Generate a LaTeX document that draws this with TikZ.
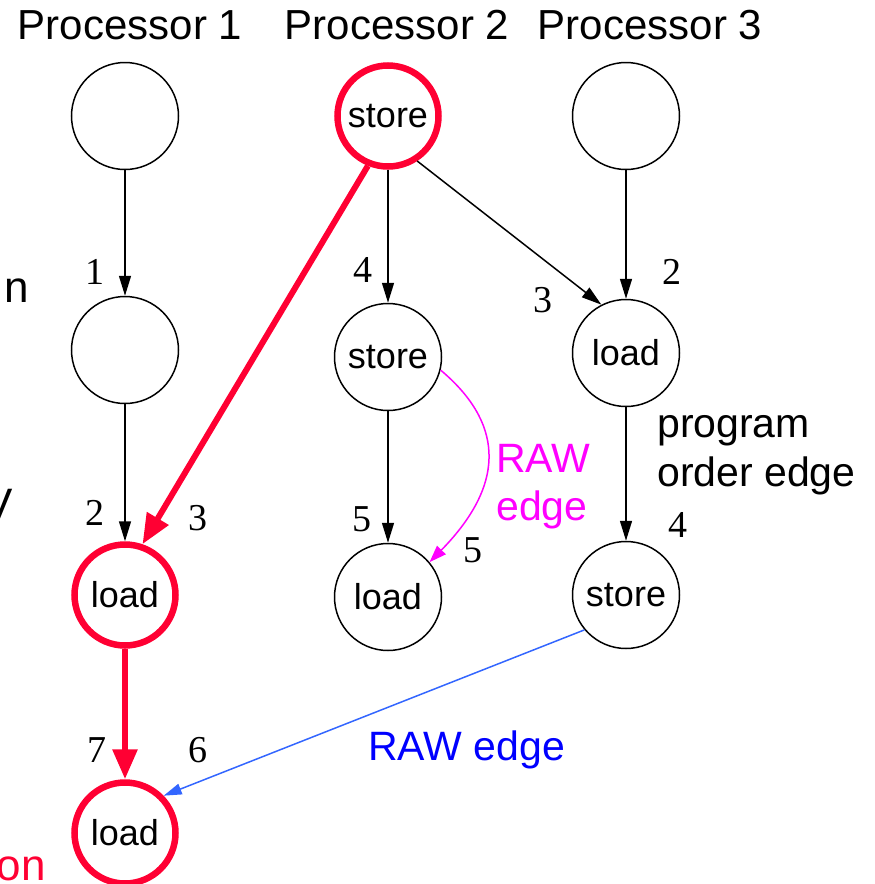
\documentclass[tikz,border=0pt]{standalone}
\usepackage{fontspec}
\setmainfont{Liberation Sans}
\newfontfamily\numfont{Liberation Serif}
\usetikzlibrary{arrows.meta}
\definecolor{hotred}{RGB}{255,0,51}
\definecolor{rawpink}{RGB}{255,0,255}
\definecolor{rawblue}{RGB}{0,0,255}
\definecolor{rawline}{RGB}{51,102,255}
\begin{document}
\begin{tikzpicture}[x=1pt,y=-1pt,
  op/.style={circle, draw, line width=1.5pt, minimum size=107pt, inner sep=0pt,
             font=\fontsize{36}{40}\selectfont},
  hot/.style={op, draw=hotred, line width=6.5pt, minimum size=101pt},
  po/.style={line width=1.5pt, -{Triangle[length=20pt,width=12pt]}},
  hotedge/.style={draw=hotred, line width=6pt, -{Triangle[length=30pt,width=24pt]}},
  rawedge/.style={draw=rawpink, line width=1.5pt, -{Triangle[length=17pt,width=12pt]}},
  rawblueedge/.style={draw=rawline, line width=1.5pt, -{Triangle[length=18pt,width=11pt]}},
  num/.style={inner sep=0pt, font=\numfont\fontsize{38}{40}\selectfont},
  head/.style={inner sep=0pt, font=\fontsize{42}{48}\selectfont},
  lbl/.style={inner sep=0pt, anchor=base west, font=\fontsize{41}{48}\selectfont},
  cut/.style={inner sep=0pt, anchor=base east, font=\fontsize{44}{50}\selectfont}]
\useasboundingbox (0,0) rectangle (875,884);

% column headings
\node[head] (h1) at (130,25) {Processor 1};
\node[head] (h2) at (397,25) {Processor 2};
\node[head] (h3) at (650,25) {Processor 3};

% operations
\node[op]  (p1a) at (125,116) {};
\node[hot] (p2a) at (388,116) {store};
\node[op]  (p3a) at (626,116) {};
\node[op]  (p1b) at (125,350) {};
\node[op]  (p2b) at (388,357) {store};
\node[op]  (p3b) at (626,353) {load};
\node[hot] (p1c) at (125,595) {load};
\node[op]  (p2c) at (388,597) {load};
\node[op]  (p3c) at (626,595) {store};
\node[hot] (p1d) at (125,833) {load};

% program order edges
\draw[po] (p1a) -- (p1b);
\draw[po] (p1b) -- (p1c);
\draw[po] (p2a) -- (p2b);
\draw[po] (p2b) -- (p2c);
\draw[po] (p3a) -- (p3b);
\draw[po] (p3b) -- (p3c);
\draw[po] (p2a.-57) -- (p3b.117);

% highlighted path
\draw[hotedge] (p2a.248) -- (p1c.71);
\draw[hotedge] (p1c) -- (p1d);

% read-after-write edges
\draw[rawedge] (p2b.-14) .. controls (500,420) and (510,480) .. (p2c.40);
\draw[rawblueedge] (p3c.220) -- (p1d.44);

% edge numbers
\node[num] (n1)  at (95,272)  {1};
\node[num] (n2)  at (95,513)  {2};
\node[num] (n3)  at (198,518) {3};
\node[num] (n4)  at (363,270) {4};
\node[num] (n5)  at (543,300) {3};
\node[num] (n6)  at (672,272) {2};
\node[num] (n7)  at (362,519) {5};
\node[num] (n8)  at (473,550) {5};
\node[num] (n9)  at (678,525) {4};
\node[num] (n10) at (97,750)  {7};
\node[num] (n11) at (198,750) {6};

% edge captions
\node[lbl] (po1) at (657,437) {program};
\node[lbl] (po2) at (657,486) {order edge};
\node[lbl, text=rawpink] (rw1) at (496,472) {RAW};
\node[lbl, text=rawpink] (rw2) at (496,520) {edge};
\node[lbl, text=rawblue] (rb)  at (368,760) {RAW edge};

% words running off the left edge
\node[cut] (c1) at (29,302) {n};
\node[cut] (c2) at (13,519) {V};
\node[cut, text=hotred] (c3) at (46,880) {on};
\end{tikzpicture}
\end{document}
